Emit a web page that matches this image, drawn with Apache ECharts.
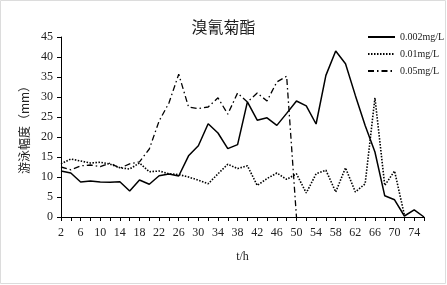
<!DOCTYPE html>
<html>
<head>
<meta charset="utf-8">
<script src="https://cdn.jsdelivr.net/npm/echarts@6/dist/echarts.min.js"></script>
<style>
  html, body { margin: 0; padding: 0; background: #fff; }
  #chart { width: 447px; height: 285px; }
</style>
</head>
<body>
<div id="chart"></div>
<script>
// t/h, every 2 hours
const hours = []
for (let h = 2; h <= 76; h += 2) hours.push(String(h))

const low = [11.5, 11.0, 8.75, 9.0, 8.75, 8.7, 8.8, 6.5, 9.25, 8.2,
  10.3, 10.75, 10.25, 15.3, 17.8, 23.3, 21.0, 17.1, 18.1, 28.8,
  24.2, 24.8, 22.9, 25.9, 29.0, 27.8, 23.25, 35.4, 41.5, 38.3,
  30.4, 22.9, 16.25, 5.3, 4.3, 0.25, 1.8, 0]

const mid = [13.3, 14.5, 14.0, 13.5, 13.7, 13.2, 12.3, 12.0, 13.5, 11.3,
  11.5, 10.8, 10.6, 10.0, 9.2, 8.3, 10.8, 13.2, 12.1, 12.8,
  7.9, 9.6, 11.0, 9.4, 10.8, 6.0, 10.8, 11.7, 6.25, 12.3,
  6.25, 8.3, 29.8, 7.9, 11.5, 0.5, null, null]

const high = [12.5, 11.8, 12.8, 13.0, 12.6, 13.5, 12.2, 13.3, 13.8, 17.0,
  24.0, 28.5, 35.7, 27.5, 27.1, 27.5, 29.8, 25.7, 31.0, 28.75,
  31.0, 29.0, 33.75, 35.2, 0, null, null, null, null, null,
  null, null, null, null, null, null, null, null]

const seriesNames = ['0.002mg/L', '0.01mg/L', '0.05mg/L']
const yTicks = [0, 5, 10, 15, 20, 25, 30, 35, 40, 45]

const serif = 'Liberation Serif, Times New Roman, serif'
const cjk = 'Noto Sans CJK SC, sans-serif'

const chart = echarts.init(document.getElementById('chart'))

function lineSeries(name, data, lineStyle) {
  return {
    name,
    type: 'line',
    data,
    symbol: 'none',
    connectNulls: false,
    lineStyle: Object.assign({ color: '#000' }, lineStyle),
    itemStyle: { color: '#000' }
  }
}

chart.setOption({
  animation: false,
  backgroundColor: '#fff',
  title: {
    text: '溴氰菊酯',
    left: 'center',
    top: 14,
    textStyle: { fontFamily: cjk, fontSize: 16, fontWeight: 'normal', color: '#222' }
  },
  legend: {
    orient: 'vertical',
    left: 362,
    top: 27,
    itemWidth: 27,
    itemHeight: 10,
    itemGap: 7,
    itemStyle: { opacity: 0 },
    textStyle: { fontFamily: serif, fontSize: 10, color: '#222' },
    data: seriesNames
  },
  grid: { left: 61, right: 23, top: 37, bottom: 68 },
  xAxis: {
    type: 'category',
    data: hours,
    boundaryGap: false,
    name: 't/h',
    nameLocation: 'middle',
    nameGap: 34,
    nameTextStyle: { fontFamily: serif, fontSize: 12, color: '#222' },
    axisLine: { lineStyle: { color: '#000', width: 1 } },
    axisTick: { interval: 0, length: 4, lineStyle: { color: '#000' } },
    axisLabel: { interval: 1, margin: 10, fontFamily: serif, fontSize: 12, color: '#222' }
  },
  yAxis: {
    type: 'value',
    min: yTicks[0],
    max: yTicks[yTicks.length - 1],
    interval: 5,
    name: '游泳幅度（mm）',
    nameLocation: 'middle',
    nameGap: 28,
    nameTextStyle: { fontFamily: cjk, fontSize: 12, color: '#222' },
    axisLine: { show: true, lineStyle: { color: '#000', width: 1 } },
    axisTick: { show: true, length: 4, lineStyle: { color: '#000' } },
    axisLabel: { margin: 8, fontFamily: serif, fontSize: 12, color: '#222' },
    splitLine: { show: false }
  },
  graphic: [{
    type: 'rect',
    shape: { x: 0.5, y: 0.5, width: 445, height: 283 },
    style: { fill: 'none', stroke: '#dcdcdc', lineWidth: 1 },
    silent: true
  }],
  series: [
    lineSeries(seriesNames[0], low, { width: 1.5, type: 'solid' }),
    lineSeries(seriesNames[1], mid, { width: 1.6, type: [1.5, 1.5] }),
    lineSeries(seriesNames[2], high, { width: 1.3, type: [6, 3, 1.5, 3] })
  ]
})
</script>
</body>
</html>
